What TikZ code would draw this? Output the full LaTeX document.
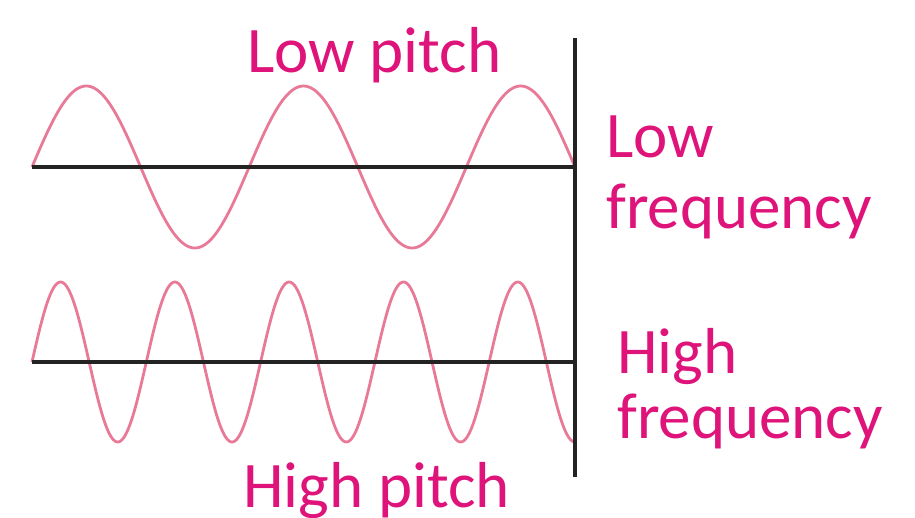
\documentclass[tikz,border=0pt]{standalone}
\usepackage{fontspec}
\setmainfont{Carlito}
\definecolor{labelpink}{RGB}{222,20,122}
\definecolor{wavepink}{RGB}{232,122,152}
\definecolor{axisgray}{RGB}{35,35,35}
\begin{document}
\begin{tikzpicture}[x=1pt,y=-1pt,
  wave/.style={draw=wavepink,line width=2.8pt,line join=round},
  axisline/.style={draw=axisgray,line width=3.6pt},
  lbl/.style={text=labelpink,font=\fontsize{65}{71}\selectfont,inner sep=0pt,anchor=base west,align=left}]
\useasboundingbox[fill=white] (0,0) rectangle (915,517);
% axes
\coordinate (t0) at (32,167);
\coordinate (t1) at (575,167);
\coordinate (b0) at (32,362);
\coordinate (b1) at (575,362);
\coordinate (vtop) at (575,38);
\coordinate (vbot) at (575,477);
% waves
\draw[wave] plot[domain=0:543,samples=300,smooth] ({32+\x},{167-81*sin(1.6575*\x)});
\draw[wave] plot[domain=0:543,samples=400,smooth] ({32+\x},{362-80*sin(3.1496*\x)});
\draw[axisline] (t0) -- (t1);
\draw[axisline] (b0) -- (b1);
\draw[axisline] (vtop) -- (vbot);
% labels
\node[lbl] (lowpitch) at (247,72) {Low pitch};
\node[lbl] (lowfreq) at (606,228) {Low\\frequency};
\node[lbl,font=\fontsize{65}{65}\selectfont] (highfreq) at (617,438) {High\\frequency};
\node[lbl] (highpitch) at (243,507) {High pitch};
\end{tikzpicture}
\end{document}
